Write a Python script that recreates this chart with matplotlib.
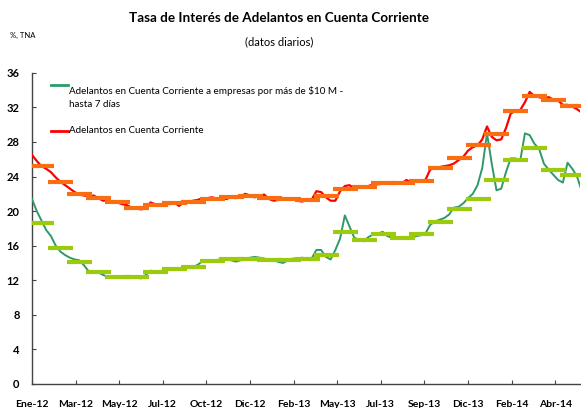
import numpy as np
import matplotlib
matplotlib.use("Agg")
import matplotlib.pyplot as plt

# weekly readings (one value every 5 business days), % TNA
red_daily = [26.5, 25.8, 25.2, 24.9, 24.5, 23.9, 23.4, 23.0, 22.6, 22.2,
             21.9, 21.8, 21.7, 21.8, 21.5, 21.2, 21.3, 21.0, 21.0, 20.8,
             20.7, 20.4, 20.3, 20.2, 20.3, 21.0, 20.8, 20.6, 20.9, 20.8,
             21.0, 20.6, 21.0, 21.1, 21.2, 21.3, 21.5, 21.5, 21.6, 21.4,
             21.5, 21.4, 21.6, 21.5, 21.7, 22.0, 21.8, 21.6, 21.8, 21.9,
             21.4, 21.2, 21.3, 21.4, 21.3, 21.4, 21.2, 21.1, 21.3, 21.3,
             22.3, 22.2, 21.6, 21.2, 21.2, 22.3, 22.9, 23.0, 22.6, 22.7,
             22.8, 22.9, 23.1, 23.1, 23.2, 23.3, 23.2, 23.3, 23.2, 23.6,
             23.3, 23.4, 23.5, 23.6, 24.8, 25.0, 25.1, 25.2, 25.3, 25.5,
             25.9, 26.3, 27.0, 27.4, 27.6, 28.3, 29.8, 28.6, 28.2, 28.3,
             29.6, 31.3, 31.6, 31.7, 32.6, 33.8, 33.3, 33.2, 33.0, 33.2,
             32.9, 32.8, 32.3, 32.3, 32.1, 31.8, 31.4]

green_daily = [21.4, 20.0, 18.9, 17.8, 17.1, 16.0, 15.3, 14.9, 14.6, 14.4,
               14.3, 13.7, 13.0, 13.0, 12.9, 12.6, 12.4, 12.4, 12.4, 12.4,
               12.4, 12.3, 12.3, 12.2, 12.6, 13.1, 13.0, 13.0, 13.2, 13.3,
               13.2, 13.3, 13.4, 13.5, 13.5, 13.8, 14.2, 14.2, 14.2, 14.35,
               14.4, 14.4, 14.3, 14.15, 14.3, 14.5, 14.6, 14.7, 14.6, 14.5,
               14.4, 14.35, 14.1, 14.0, 14.3, 14.5, 14.5, 14.6, 14.5, 14.5,
               15.5, 15.5, 14.7, 14.4, 15.5, 16.8, 19.5, 18.2, 16.9, 16.7,
               16.5, 17.0, 17.3, 17.4, 17.6, 17.1, 16.9, 16.9, 17.0, 16.8,
               16.9, 17.1, 17.2, 17.4, 18.4, 18.8, 19.0, 19.2, 19.6, 20.4,
               20.5, 20.9, 21.5, 22.0, 23.0, 25.0, 29.0, 25.5, 22.4, 22.6,
               24.5, 26.1, 26.1, 25.8, 29.0, 28.8, 27.8, 27.2, 25.5, 24.8,
               24.2, 23.6, 23.3, 25.6, 24.9, 24.0, 22.3]

# monthly averages, Ene-12 ... May-14
red_monthly = [25.2, 23.35, 22.0, 21.5, 21.0, 20.3, 20.7, 20.9, 21.1, 21.4,
               21.6, 21.7, 21.5, 21.4, 21.3, 21.7, 22.5, 22.8, 23.2, 23.3,
               23.5, 25.0, 26.1, 27.6, 28.9, 31.6, 33.35, 32.9, 32.2]
green_monthly = [18.6, 15.7, 14.1, 12.9, 12.4, 12.4, 12.9, 13.3, 13.5, 14.2,
                 14.4, 14.45, 14.35, 14.3, 14.5, 14.9, 17.55, 16.7, 17.3, 16.85,
                 17.35, 18.7, 20.2, 21.4, 23.6, 25.9, 27.3, 24.7, 24.2]

tick_labels = ["Ene-12", "Mar-12", "May-12", "Jul-12", "Oct-12", "Dic-12", "Feb-13",
               "May-13", "Jul-13", "Sep-13", "Dic-13", "Feb-14", "Abr-14"]

plt.rcParams['font.family'] = ['Lato', 'DejaVu Sans']

GREEN = '#2E9A68'
RED = '#FF0000'
days_per_week = 5
days_per_month = 20
tick_step = 46

x_daily = np.arange(len(red_daily)) * days_per_week
x_month = np.arange(len(red_monthly)) * days_per_month + days_per_month / 2

fig = plt.figure(figsize=(5.81, 4.08), dpi=100)
ax = fig.add_axes([0.0551, 0.0593, 0.943, 0.762])

ax.plot(x_daily, green_daily, color=GREEN, lw=1.4, zorder=3)
ax.plot(x_month, green_monthly, ls='none', marker='_', ms=18, mew=3.0,
        color='#9BCB0C', zorder=4)
ax.plot(x_daily, red_daily, color=RED, lw=1.6, zorder=5)
ax.plot(x_month, red_monthly, ls='none', marker='_', ms=18, mew=3.0,
        color='#FA6E12', zorder=6)

ax.set_xlim(0, 578)
ax.set_ylim(0, 36)
ax.set_yticks(np.arange(0, 37, 4))
ax.set_xticks(np.arange(len(tick_labels)) * tick_step)
ax.set_xticklabels(tick_labels)
for s in ['top', 'right']:
    ax.spines[s].set_visible(False)
for s in ['left', 'bottom']:
    ax.spines[s].set_color('#444444')
    ax.spines[s].set_linewidth(1.0)
ax.tick_params(axis='both', direction='in', length=3, color='#444444')
ax.tick_params(axis='y', pad=9, labelsize=8)
ax.tick_params(axis='x', pad=12, labelsize=7.5)
for lab in ax.get_xticklabels() + ax.get_yticklabels():
    lab.set_fontweight('bold')

# legend drawn by hand so the green key sits on the first text line
ax.plot([0.034, 0.065], [0.962, 0.962], color=GREEN, lw=2, transform=ax.transAxes,
        clip_on=False)
ax.text(0.068, 0.958, "Adelantos en Cuenta Corriente a empresas por más de \\$10 M -\nhasta 7 días",
        transform=ax.transAxes, ha='left', va='top', fontsize=7.1, linespacing=1.55)
ax.plot([0.034, 0.065], [0.814, 0.814], color=RED, lw=2, transform=ax.transAxes,
        clip_on=False)
ax.text(0.068, 0.814, "Adelantos en Cuenta Corriente", transform=ax.transAxes,
        ha='left', va='center', fontsize=7.1)

fig.text(0.480, 0.956, "Tasa de Interés de Adelantos en Cuenta Corriente",
         ha='center', va='center', fontsize=9.7, fontweight='bold')
fig.text(0.480, 0.897, "(datos diarios)", ha='center', va='center', fontsize=8)
fig.text(0.017, 0.912, "%, TNA", ha='left', va='center', fontsize=5.5)

fig.savefig("out.png", dpi=100)
